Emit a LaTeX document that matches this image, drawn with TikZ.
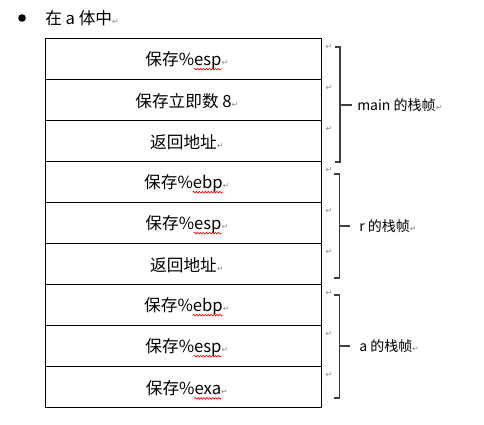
\documentclass[tikz,border=0pt]{standalone}
\usepackage{fontspec}
\setmainfont{Noto Sans CJK SC}
\newfontfamily\markfont{DejaVu Sans}
\usetikzlibrary{decorations.pathmorphing}
\newcommand\pmark{{\markfont\fontsize{6pt}{6pt}\selectfont\color{black!45}↵}}
\newcommand\cellfont{\fontsize{12.5pt}{14pt}\selectfont}
\begin{document}
\begin{tikzpicture}[x=0.75pt,y=-0.75pt,
  cell/.style={draw=black, line width=0.75pt, minimum width=207pt, minimum height=30.75pt, inner sep=0pt, anchor=north west},
  celltxt/.style={font=\cellfont, inner sep=0pt},
  ghost/.style={font=\cellfont, inner sep=0pt, anchor=base east},
  wave/.style={draw=red, line width=0.5pt, decorate, decoration={snake, segment length=2.2pt, amplitude=0.6pt}},
  brk/.style={draw=black!75, line width=1.1pt},
  lbl/.style={font=\fontsize{10.5pt}{12pt}\selectfont, anchor=west, inner sep=0pt},
  pm/.style={inner sep=0pt}]
\useasboundingbox (0,0) rectangle (484,424);
% header
\fill (22,18) circle (3.8);
\node[anchor=west, inner sep=0pt, font=\cellfont] (hdr) at (45,18) {在 a 体中\pmark};
% rows
\node[cell] (r1) at (45,38) {};
\node[cell] (r2) at (45,79) {};
\node[cell] (r3) at (45,120) {};
\node[cell] (r4) at (45,161) {};
\node[cell] (r5) at (45,202) {};
\node[cell] (r6) at (45,243) {};
\node[cell] (r7) at (45,284) {};
\node[cell] (r8) at (45,325) {};
\node[cell] (r9) at (45,366) {};
\node[celltxt] (t1) at ([yshift=-1pt]r1.center) {保存\%esp\rlap{\pmark}};
\node[celltxt] (t2) at ([yshift=-1pt]r2.center) {保存立即数 8\rlap{\pmark}};
\node[celltxt] (t3) at ([yshift=-1pt]r3.center) {返回地址\rlap{\pmark}};
\node[celltxt] (t4) at ([yshift=-1pt]r4.center) {保存\%ebp\rlap{\pmark}};
\node[celltxt] (t5) at ([yshift=-1pt]r5.center) {保存\%esp\rlap{\pmark}};
\node[celltxt] (t6) at ([yshift=-1pt]r6.center) {返回地址\rlap{\pmark}};
\node[celltxt] (t7) at ([yshift=-1pt]r7.center) {保存\%ebp\rlap{\pmark}};
\node[celltxt] (t8) at ([yshift=-1pt]r8.center) {保存\%esp\rlap{\pmark}};
\node[celltxt] (t9) at ([yshift=-1pt]r9.center) {保存\%exa\rlap{\pmark}};
% spell-check squiggles
\foreach \i/\w in {1/esp,4/ebp,5/esp,7/ebp,8/esp,9/exa} {
  \node[ghost] (g\i) at (t\i.base east) {\phantom{\w}};
  \draw[wave] ([yshift=-2.8pt]g\i.base west) -- ([yshift=-2.8pt]g\i.base east);
}
% paragraph marks right of table
\foreach \i in {1,...,9} {
  \node[pm, anchor=north west] (m\i) at ([xshift=2.5pt,yshift=-5pt]r\i.north east) {\pmark};
}
% brackets
\coordinate (b1a) at (335,47);  \coordinate (b1b) at (335,162);
\coordinate (b1m) at (340,105);
\draw[brk] (b1a) -- (340,47) -- (340,162) -- (b1b);
\node[lbl] (l1) at (357,105) {main 的栈帧\pmark};
\draw[brk] (b1m) -- ([xshift=-3.5pt]l1.west);
\coordinate (b2a) at (334,174); \coordinate (b2b) at (334,278);
\coordinate (b2m) at (339.5,226);
\draw[brk] (b2a) -- (339.5,174) -- (339.5,278) -- (b2b);
\node[lbl] (l2) at (359,226) {r 的栈帧\pmark};
\draw[brk] (b2m) -- ([xshift=-7pt]l2.west);
\coordinate (b3a) at (334,295); \coordinate (b3b) at (334,398);
\coordinate (b3m) at (339.5,346);
\draw[brk] (b3a) -- (339.5,295) -- (339.5,398) -- (b3b);
\node[lbl] (l3) at (359,346) {a 的栈帧\pmark};
\draw[brk] (b3m) -- ([xshift=-7pt]l3.west);
\end{tikzpicture}
\end{document}
